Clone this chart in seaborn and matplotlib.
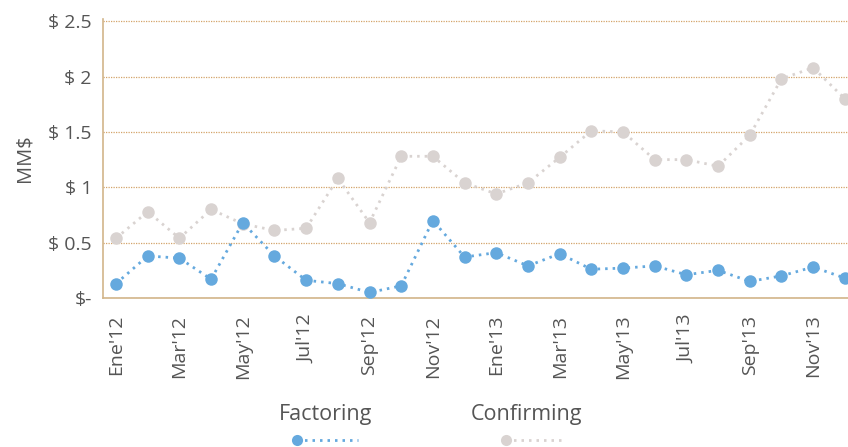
import numpy as np
import pandas as pd
import matplotlib
matplotlib.use("Agg")
import matplotlib.pyplot as plt
import seaborn as sns
from matplotlib.legend_handler import HandlerLine2D
from matplotlib.lines import Line2D

months = ["Ene'12", "Feb'12", "Mar'12", "Abr'12", "May'12", "Jun'12", "Jul'12", "Ago'12",
          "Sep'12", "Oct'12", "Nov'12", "Dic'12", "Ene'13", "Feb'13", "Mar'13", "Abr'13",
          "May'13", "Jun'13", "Jul'13", "Ago'13", "Sep'13", "Oct'13", "Nov'13", "Dic'13"]
factoring = [0.13, 0.38, 0.36, 0.17, 0.68, 0.38, 0.16, 0.13, 0.05, 0.11, 0.70, 0.37,
             0.41, 0.29, 0.40, 0.26, 0.27, 0.29, 0.21, 0.25, 0.15, 0.20, 0.28, 0.18]
confirming = [0.54, 0.78, 0.54, 0.80, 0.67, 0.61, 0.63, 1.08, 0.68, 1.28, 1.28, 1.04,
              0.94, 1.04, 1.27, 1.51, 1.50, 1.25, 1.25, 1.19, 1.47, 1.98, 2.08, 1.80]
y_ticks = [0, 0.5, 1, 1.5, 2, 2.5]
y_ticklabels = ["$-", "$ 0.5", "$ 1", "$ 1.5", "$ 2", "$ 2.5"]
series_names = ["Factoring", "Confirming"]
colors = ["#65a9de", "#d9d3d1"]

sns.set_style("white")
plt.rcParams['font.family'] = ['Open Sans', 'DejaVu Sans']
text_color = "#555555"
tan = "#d2b58a"

fig = plt.figure(figsize=(8.48, 4.47), dpi=100)
ax = fig.add_axes([0.1215, 0.3333, 0.8785, 0.6242])

x = np.arange(len(months))
line_style = (0, (0.9, 1.8))
sns.lineplot(x=x, y=confirming, ax=ax, color=colors[1], marker='o', markersize=9,
             markeredgewidth=0, linestyle=line_style, linewidth=2.0, zorder=3)
sns.lineplot(x=x, y=factoring, ax=ax, color=colors[0], marker='o', markersize=9,
             markeredgewidth=0, linestyle=line_style, linewidth=2.0, zorder=4)

ax.set_xlim(-0.41, 23.1)
ax.set_ylim(0, 2.52)
ax.set_yticks(y_ticks)
ax.set_yticklabels(y_ticklabels)
ax.set_xticks(x)
ax.set_xticklabels([m if i % 2 == 0 else "" for i, m in enumerate(months)], rotation=90)
ax.tick_params(axis='x', length=6, color=tan, width=1, labelsize=14, labelcolor=text_color, pad=6)
ax.tick_params(axis='y', length=6, color=tan, width=1, labelsize=14, labelcolor=text_color, pad=2)
ax.set_ylabel("MM$", fontsize=14.5, color=text_color, labelpad=10)
ax.set_xlabel("")

for s in ["top", "right"]:
    ax.spines[s].set_visible(False)
for s in ["left", "bottom"]:
    ax.spines[s].set_color(tan)
    ax.spines[s].set_linewidth(1.2)

ax.yaxis.grid(True, color="#d4a46a", linestyle=(0, (1, 1)), linewidth=0.9)
ax.xaxis.grid(False)
ax.set_axisbelow(True)


class LeftMarkerHandler(HandlerLine2D):
    def create_artists(self, legend, orig_handle, xdescent, ydescent, width, height,
                       fontsize, trans):
        xdata = np.array([-xdescent, -xdescent + width])
        ydata = np.full_like(xdata, (height - ydescent) / 2)
        legline = Line2D(xdata, ydata)
        self.update_prop(legline, orig_handle, legend)
        legline.set_markevery([0])
        legline.set_transform(trans)
        return [legline]


handles = [Line2D([], [], color=c, marker='o', markersize=8, markeredgewidth=0,
                  linestyle=line_style, linewidth=2.0) for c in colors]
leg_text = fig.legend([Line2D([], [], alpha=0) for _ in colors], series_names,
                      loc='center', bbox_to_anchor=(0.508, 0.073), ncol=2, frameon=False,
                      handlelength=0, handletextpad=0, columnspacing=4.6,
                      prop={'size': 15.5}, labelcolor=text_color)
leg_handles = fig.legend(handles, ["", ""], loc='center', bbox_to_anchor=(0.509, 0.012),
                         ncol=2, frameon=False, handlelength=3.1, handletextpad=0,
                         columnspacing=7.6, prop={'size': 14},
                         handler_map={Line2D: LeftMarkerHandler()})

fig.savefig("out.png", dpi=100)
